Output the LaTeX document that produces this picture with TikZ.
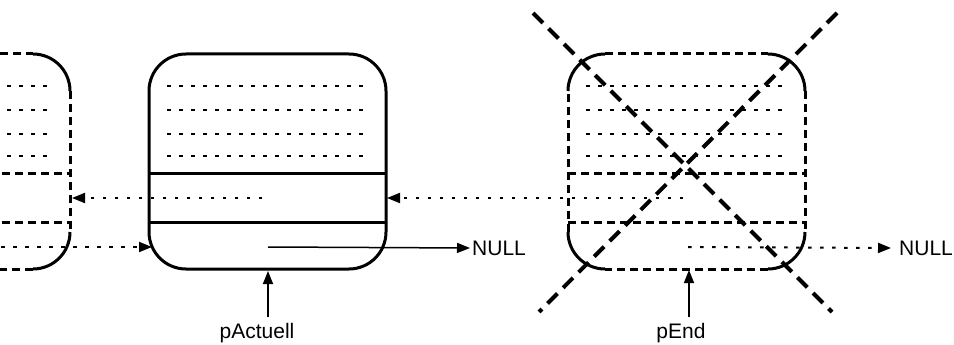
\documentclass[tikz,border=0pt]{standalone}
\usepackage{fontspec}
\setmainfont{Liberation Sans}
\usetikzlibrary{arrows.meta}
\begin{document}
\begin{tikzpicture}[x=1pt,y=-1pt,
  boxline/.style={line width=3pt},
  dotln/.style={line width=2pt, dash pattern=on 3.5pt off 8.5pt},
  dashln/.style={line width=3pt, dash pattern=on 8pt off 5pt},
  xln/.style={line width=4pt, dash pattern=on 14pt off 8pt},
  tipped/.style={-{Triangle[length=13pt,width=10pt]}},
  lbl/.style={font=\fontsize{21}{24}\selectfont, inner sep=0pt},
  cornr/.style={boxline, rounded corners=37pt},
  boxnode/.style={minimum width=237pt, minimum height=215pt, inner sep=0pt, outer sep=0pt, anchor=north west}]
\useasboundingbox (0,0) rectangle (954,345);
\clip (0,0) rectangle (954,345);

% ---------- boxes as nodes ----------
\node[boxnode, draw, boxline, rounded corners=37pt] (mid) at (149,54) {};
\node[boxnode] (rgt) at (568,54) {};
\node[boxnode] (lft) at (-167,54) {};

% ---------- middle box interior ----------
\foreach \yy in {86,110,134,156} \draw[dotln] (167,\yy) -- (363,\yy);
\draw[boxline] (149,173) -- (386,173);
\draw[boxline] (149,222) -- (386,222);

% ---------- dashed boxes (left and right) ----------
\foreach \L/\R in {-167/70, 568/805} {
  \pgfmathsetmacro\La{\L+37}\pgfmathsetmacro\Rb{\R-37}
  \pgfmathsetmacro\Da{\L+18}\pgfmathsetmacro\Db{\R-23}
  \draw[cornr] (\L,91) -- (\L,54) -- (\La,54);
  \draw[cornr] (\Rb,54) -- (\R,54) -- (\R,91);
  \draw[cornr] (\R,232) -- (\R,269) -- (\Rb,269);
  \draw[cornr] (\La,269) -- (\L,269) -- (\L,232);
  \draw[dashln] (\La,54) -- (\Rb,54);
  \draw[dashln] (\R,91) -- (\R,232);
  \draw[dashln] (\Rb,269) -- (\La,269);
  \draw[dashln] (\L,232) -- (\L,91);
  \foreach \yy in {86,110,134,156} \draw[dotln] (\Da,\yy) -- (\Db,\yy);
  \draw[dashln] (\L,173) -- (\R,173);
  \draw[dashln] (\L,222) -- (\R,222);
}

% ---------- connector endpoints ----------
\coordinate (rgtprev) at (683,198);
\coordinate (midprevin) at (387,198);
\coordinate (midprev) at (262,198);
\coordinate (lftin) at (72,198);
\coordinate (lftnext) at (-47,247);
\coordinate (midin) at (152,247);
\coordinate (midnext) at (268,247);
\coordinate (rgtnext) at (688,247);
\coordinate (midbot) at (268,271);
\coordinate (rgtbot) at (689,270);
\coordinate (pa) at (268,317);
\coordinate (pe) at (689,317);

% ---------- labels ----------
\node[lbl, anchor=west] (null1) at (472,248) {NULL};
\node[lbl, anchor=west] (null2) at (899,248) {NULL};
\node[lbl, anchor=base] (pAct) at (257,338) {pActuell};
\node[lbl, anchor=base] (pEnd) at (681,338) {pEnd};

% ---------- connectors ----------
\draw[dotln, tipped] (rgtprev) -- (midprevin);
\draw[dotln, tipped] (midprev) -- (lftin);
\draw[dotln, tipped] (lftnext) -- (midin);
\draw[line width=1.5pt, tipped] (midnext) -- ([xshift=-2pt]null1.west);
\draw[dotln, tipped] (rgtnext) -- ([xshift=-8pt]null2.west);
\draw[line width=1.5pt, tipped] (pa) -- (midbot);
\draw[line width=1.5pt, tipped] (pe) -- (rgtbot);

% ---------- cross ----------
\coordinate (x1a) at (533,13); \coordinate (x1b) at (832,312);
\coordinate (x2a) at (837,13); \coordinate (x2b) at (539,312);
\draw[xln] (x1a) -- (x1b);
\draw[xln] (x2a) -- (x2b);
\end{tikzpicture}
\end{document}
